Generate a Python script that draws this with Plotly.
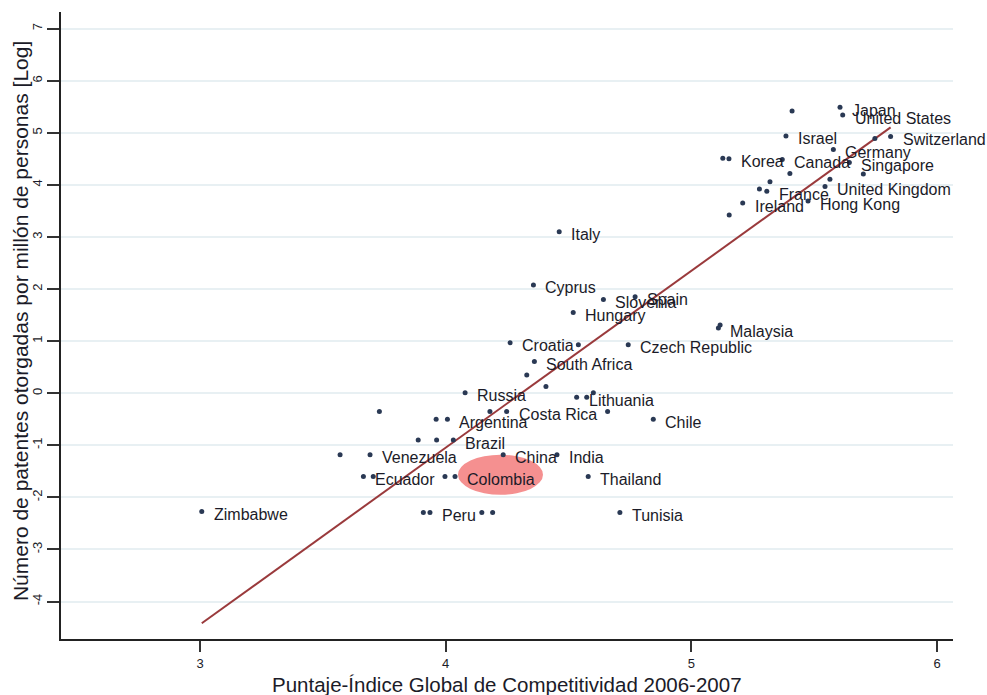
import numpy as np
import plotly.graph_objects as go

# Competitiveness index score (x) and log patents granted per million people (y)
countries = [
    "", "Japan", "United States", "Israel", "Switzerland", "", "Germany", "", "Korea", "Canada",
    "Singapore", "", "", "", "United Kingdom", "", "", "France", "Hong Kong", "Ireland",
    "", "Italy", "Cyprus", "Slovenia", "Spain", "Hungary", "", "Malaysia", "Croatia", "",
    "Czech Republic", "South Africa", "", "", "Russia", "Lithuania", "", "", "", "",
    "Costa Rica", "", "", "Argentina", "Chile", "", "", "Brazil", "", "Venezuela",
    "China", "India", "Ecuador", "", "", "Colombia", "Thailand", "", "Peru", "",
    "", "Tunisia", "Zimbabwe",
]
gci_score = [
    5.410, 5.605, 5.616, 5.385, 5.811, 5.747, 5.578, 5.128, 5.153, 5.370,
    5.643, 5.700, 5.401, 5.564, 5.544, 5.320, 5.277, 5.307, 5.475, 5.209,
    5.154, 4.462, 4.357, 4.642, 4.771, 4.519, 5.117, 5.110, 4.262, 4.540,
    4.743, 4.361, 4.330, 4.408, 4.079, 4.533, 4.574, 4.601, 3.730, 4.180,
    4.248, 4.659, 3.961, 4.007, 4.845, 3.888, 3.963, 4.031, 3.570, 3.692,
    4.234, 4.453, 3.665, 3.705, 3.997, 4.038, 4.580, 3.909, 3.936, 4.147,
    4.191, 4.709, 3.007,
]
log_patents = [
    5.42, 5.49, 5.34, 4.94, 4.93, 4.89, 4.68, 4.51, 4.50, 4.49,
    4.43, 4.21, 4.22, 4.11, 3.97, 4.06, 3.92, 3.88, 3.69, 3.65,
    3.42, 3.10, 2.08, 1.80, 1.85, 1.55, 1.31, 1.25, 0.97, 0.93,
    0.93, 0.61, 0.35, 0.13, 0.01, -0.08, -0.08, 0.01, -0.35, -0.35,
    -0.35, -0.35, -0.50, -0.50, -0.50, -0.90, -0.90, -0.90, -1.18, -1.18,
    -1.18, -1.18, -1.60, -1.60, -1.60, -1.60, -1.60, -2.29, -2.29, -2.29,
    -2.29, -2.29, -2.27,
]

# Linear fit (intercept, slope), drawn over the observed range of scores
fit_intercept = -14.63
fit_slope = 3.396

x_ticks = [3, 4, 5, 6]
y_ticks = [-4, -3, -2, -1, 0, 1, 2, 3, 4, 5, 6, 7]

highlight = "Colombia"

FONT = "Liberation Sans, Arial, Helvetica, sans-serif"
TEXT_COLOR = "#1b1b28"

x = np.array(gci_score)
y = np.array(log_patents)
fit_x = np.array([x.min(), x.max()])
fit_y = fit_intercept + fit_slope * fit_x

fig = go.Figure()

fig.add_trace(go.Scatter(
    x=fit_x, y=fit_y, mode="lines",
    line=dict(color="#9a3a3c", width=2),
    hoverinfo="skip", showlegend=False,
))

fig.add_trace(go.Scatter(
    x=x, y=y, mode="markers",
    marker=dict(size=5, color="#2a3954", symbol="circle"),
    cliponaxis=False, showlegend=False,
))

# Country labels, set just right of and slightly below each marker
label_annotations = [
    dict(text=name, x=xv, y=yv, xref="x", yref="y",
         xanchor="left", yanchor="middle", xshift=10, yshift=-3,
         showarrow=False, font=dict(family=FONT, size=16, color=TEXT_COLOR))
    for name, xv, yv in zip(countries, gci_score, log_patents) if name
]

# Highlight ellipse around the selected country's label
hi = countries.index(highlight)
hx, hy = gci_score[hi], log_patents[hi]
fig.add_shape(
    type="circle", xref="x", yref="y", layer="below",
    x0=hx + 0.012, x1=hx + 0.358, y0=hy - 0.35, y1=hy + 0.42,
    fillcolor="#f48a8a", line=dict(width=0), opacity=0.95,
)

fig.update_layout(
    width=987, height=695,
    margin=dict(l=61, r=34, t=12, b=56),
    paper_bgcolor="white", plot_bgcolor="white",
    font=dict(family=FONT, color=TEXT_COLOR),
    xaxis=dict(
        range=[2.434, 6.065], tickvals=x_ticks, ticktext=[str(v) for v in x_ticks],
        ticks="outside", ticklen=11, tickwidth=1.5, tickcolor="#333",
        showline=True, linecolor="#222", linewidth=2,
        showgrid=False, zeroline=False,
        tickfont=dict(family=FONT, size=13, color=TEXT_COLOR),
    ),
    yaxis=dict(
        range=[-4.72, 7.32], tickvals=y_ticks, ticktext=[str(v) for v in y_ticks],
        ticks="outside", ticklen=12, tickwidth=1.5, tickcolor="#333",
        showline=True, linecolor="#222", linewidth=2,
        showgrid=True, gridcolor="#e8f0f3", gridwidth=1.5, zeroline=False,
        tickangle=-90,
        tickfont=dict(family=FONT, size=13, color=TEXT_COLOR),
    ),
    annotations=label_annotations + [
        dict(text="Puntaje-Índice Global de Competitividad 2006-2007",
             xref="paper", yref="paper", x=0.5, y=-0.072,
             xanchor="center", yanchor="middle", showarrow=False,
             font=dict(family=FONT, size=20.5, color=TEXT_COLOR)),
        dict(text="Número de patentes otorgadas por millón de personas [Log]",
             xref="paper", yref="paper", x=-0.046, y=0.507, textangle=-90,
             xanchor="center", yanchor="middle", showarrow=False,
             font=dict(family=FONT, size=21, color=TEXT_COLOR)),
    ],
)

fig.write_html("out.html")
